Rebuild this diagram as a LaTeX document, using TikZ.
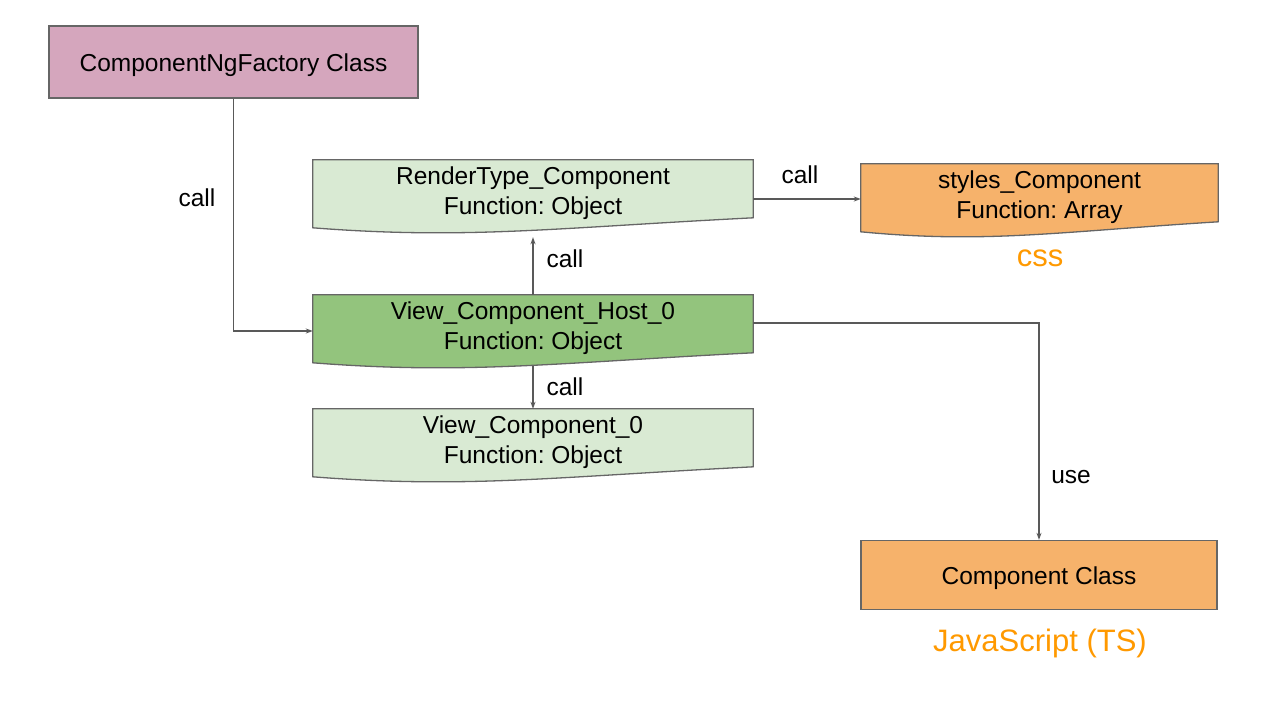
\documentclass[tikz,border=0pt]{standalone}
\usepackage{fontspec}
\setmainfont{Liberation Sans}
\frenchspacing
\usetikzlibrary{arrows.meta,calc,backgrounds}
\definecolor{lightgreen}{HTML}{D9EAD3}
\definecolor{midgreen}{HTML}{93C47D}
\definecolor{boxorange}{HTML}{F6B26B}
\definecolor{boxpink}{HTML}{D5A6BD}
\definecolor{txtorange}{HTML}{FF9900}
\definecolor{bordergray}{HTML}{666666}
\definecolor{linegray}{HTML}{595959}
\begin{document}
\begin{tikzpicture}[x=1pt,y=-1pt,
  every node/.style={font=\fontsize{24.5}{29.5}\selectfont, inner sep=0pt, align=center},
  plainbox/.style={rectangle, draw=bordergray, line width=1.3pt, text height=23.5pt, text depth=5pt},
  docbox/.style={rectangle, minimum height=66pt},
  conn/.style={draw=linegray, line width=1.1pt, -{Stealth[length=7pt,width=5pt]}},
  lbl/.style={text=black},
  colorlbl/.style={text=txtorange, font=\fontsize{31}{36}\selectfont}
]
\useasboundingbox (0,0) rectangle (1267,705);

% nodes
\node[plainbox, fill=boxpink, minimum width=369pt, minimum height=72pt] (fac) at (233.5,62) {ComponentNgFactory Class};
\node[docbox, minimum width=440pt] (rt) at (533,193) {RenderType\_Component\\Function: Object};
\node[docbox, minimum width=440pt] (host) at (533,328) {View\_Component\_Host\_0\\Function: Object};
\node[docbox, minimum width=440pt] (vc) at (533,442) {View\_Component\_0\\Function: Object};
\node[docbox, minimum width=357pt] (sty) at (1039.5,197) {styles\_Component\\Function: Array};
\node[plainbox, fill=boxorange, minimum width=356pt, minimum height=69pt] (cc) at (1039,575) {Component Class};

\node[colorlbl] (css) at (1040,258.5) {css};
\node[colorlbl] (js) at (1040,643.5) {JavaScript (TS)};

% document shapes
\begin{pgfonlayer}{background}
\foreach \n/\c in {rt/lightgreen, host/midgreen, vc/lightgreen, sty/boxorange}{
  \filldraw[fill=\c, draw=bordergray, line width=1.3pt]
    (\n.north west) -- (\n.north east) -- ($(\n.north east)+(0,58)$)
    .. controls ($(\n.north west)!0.55!(\n.north east)+(0,68)$) and ($(\n.north west)!0.35!(\n.north east)+(0,80)$)
    .. ($(\n.north west)+(0,68)$) -- cycle;
}
\end{pgfonlayer}

% connectors
\draw[conn] (fac.south) |- ([yshift=-3pt]host.west);
\draw[conn] (host.north) -- ([yshift=-11pt]rt.south);
\draw[conn] ([yshift=-6pt]rt.east) -- ([yshift=-6pt]rt.east -| sty.west);
\draw[conn] ([yshift=-5pt]host.south) -- (vc.north);
\draw[conn] ([yshift=5pt]host.east) -| (cc.north);

% labels
\node[lbl] (l1) at (197,198) {call};
\node[lbl] (l2) at (565,259) {call};
\node[lbl] (l3) at (800,175) {call};
\node[lbl] (l4) at (565,387) {call};
\node[lbl] (l5) at (1071,477.5) {use};
\end{tikzpicture}
\end{document}
